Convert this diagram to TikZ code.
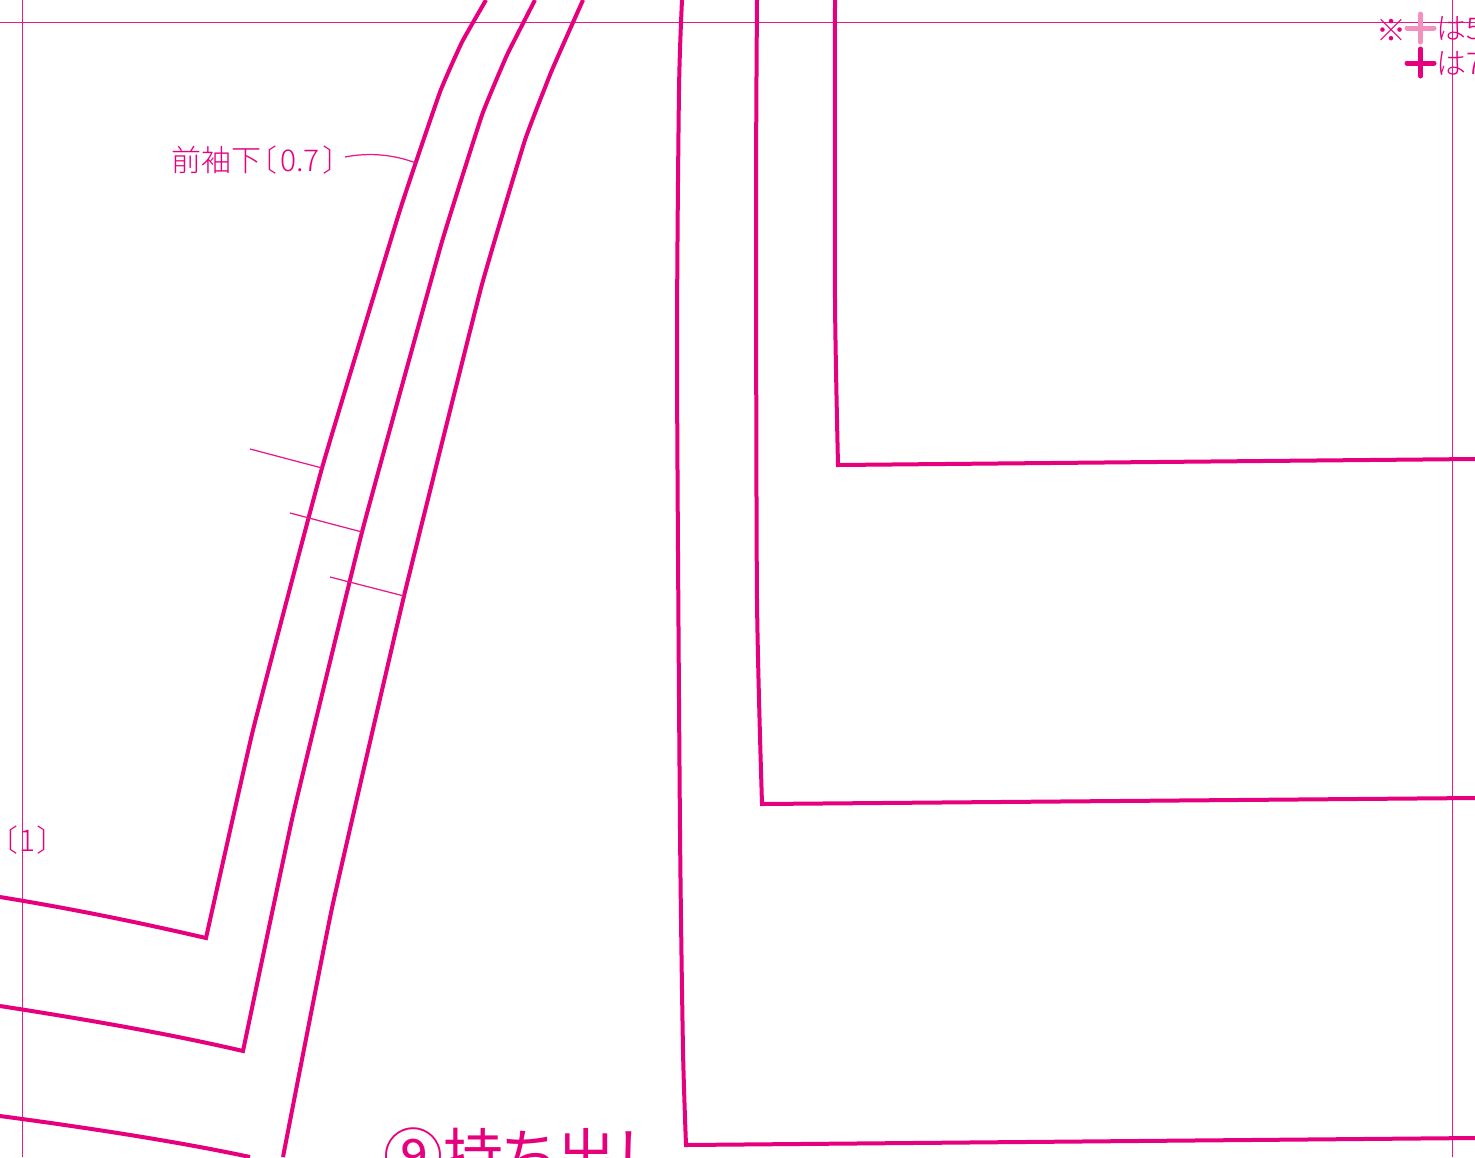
\documentclass[tikz,border=0pt]{standalone}
\usepackage{fontspec}
\newfontfamily\cjk[RawFeature=+palt]{Noto Sans CJK JP}
\newfontfamily\cjklight[RawFeature=+palt]{Noto Sans CJK JP Light}
\definecolor{patpink}{RGB}{230,0,126}
\definecolor{palepink}{RGB}{243,145,190}
\tikzset{
    patline/.style={draw=patpink,line width=4pt,line join=miter},
    thinline/.style={draw=patpink!90,line width=1.25pt},
    notelabel/.style={text=patpink,inner sep=0pt,font=\cjklight\fontsize{30}{30}\selectfont},
    titlelabel/.style={text=patpink,inner sep=0pt,font=\cjk\fontsize{60}{60}\selectfont}
}
\begin{document}
\begin{tikzpicture}[x=1pt,y=-1pt]
    \useasboundingbox (0,0) rectangle (1475,1157);
    \clip (0,0) rectangle (1475,1157);

    % frame lines
    \draw[thinline] (0,22.5) -- (1475,22.5);
    \draw[thinline] (22.5,0) -- (22.5,1157);
    \draw[thinline] (1452.5,0) -- (1452.5,1157);

    % sleeve seams
    \draw[patline] (0,897) .. controls (80,910) and (150,925) .. (206,938)
        -- plot[smooth,tension=0.2] coordinates {(206,938) (253,730) (322,468) (400,210) (440,92) (462,42) (486,0)};
    \draw[patline] (0,1006) .. controls (90,1020) and (170,1034) .. (243,1051)
        -- plot[smooth,tension=0.2] coordinates {(243,1051) (293,815) (362,532) (441,245) (482,115) (507,55) (535,0)};
    \draw[patline] (0,1116) .. controls (90,1128) and (180,1142) .. (250,1157);
    \draw[patline] plot[smooth,tension=0.2] coordinates {(283,1157) (332,908) (404,596) (481,288) (525,140) (552,70) (583,0)};

    % body seams
    \draw[patline] plot[smooth,tension=0.4] coordinates {(682,0) (679,90) (677,360) (680,830) (683,1050) (686,1145)} -- (1475,1138);
    \draw[patline] plot[smooth,tension=0.4] coordinates {(757,0) (756,200) (757,600) (762,804)} -- (1475,798);
    \draw[patline] plot[smooth,tension=0.4] coordinates {(835,0) (835,300) (838,465)} -- (1475,459);

    % match marks
    \coordinate (mark1) at (322,468);
    \coordinate (mark2) at (362,532);
    \coordinate (mark3) at (404,596);
    \draw[thinline] (250,449) -- (mark1);
    \draw[thinline] (290,513) -- (mark2);
    \draw[thinline] (330,577) -- (mark3);

    % labels
    \node[notelabel,anchor=west] (sleevelabel) at (171,160) {前袖下〔\hspace{4pt}0.7\hspace{4pt}〕};
    \coordinate (sleevepoint) at (416,163);
    \draw[thinline] (345,157) .. controls (370,152) and (395,155) .. (sleevepoint);
    \node[notelabel,anchor=west] (hemlabel) at (2,840) {〔\hspace{2pt}1\hspace{2pt}〕};
    \node[titlelabel,anchor=west] (titlelabel) at (383,1156) {⑨持ち出し};

    % note at top right
    \node[notelabel,anchor=center] (notemark) at (1391,30) {※};
    \draw[draw=palepink,line width=5pt,line cap=round] (1407,28) -- (1434,28) (1420.5,14) -- (1420.5,42);
    \draw[draw=patpink,line width=5pt,line cap=round] (1407,63) -- (1434,63) (1420.5,49) -- (1420.5,76);
    \node[notelabel,anchor=west] (noteone) at (1436,28) {は5};
    \node[notelabel,anchor=west] (notetwo) at (1436,63) {は7};
\end{tikzpicture}
\end{document}
